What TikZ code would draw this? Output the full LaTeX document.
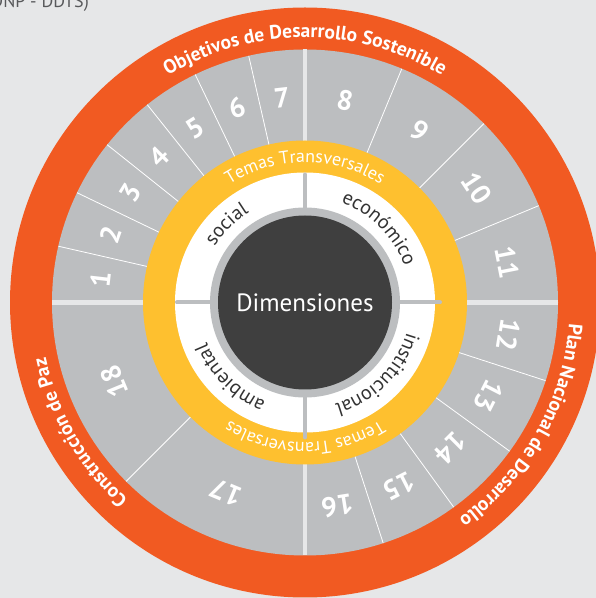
\documentclass[tikz,border=0pt]{standalone}
\usepackage{fontspec}
\setmainfont{PT Sans}
\usetikzlibrary{decorations.text}
\definecolor{bg}{HTML}{E6E7E8}
\definecolor{ora}{HTML}{F15A22}
\definecolor{ring}{HTML}{BCBEC0}
\definecolor{yel}{HTML}{FEC02F}
\definecolor{dark}{HTML}{3F3F3F}
\definecolor{lab}{HTML}{333333}
\definecolor{srcgray}{HTML}{58595B}
\newcommand\ringfont{\bfseries\fontsize{19.5}{19.5}\selectfont}
\newcommand\temafont{\fontsize{18}{18}\selectfont}
\newcommand\dimfont{\fontsize{20}{20}\selectfont}
\tikzset{
  num/.style={text=white, inner sep=0pt, font=\bfseries\fontsize{28}{28}\selectfont},
  thinsep/.style={white, line width=0.8pt},
  thicksep/.style={bg, line width=4.5pt},
  crosssep/.style={ring, line width=4pt, line cap=round},
  ringtext/.style={decorate, decoration={text along path, text align=center, text color=white, text={|\ringfont|#1}}},
  tematext/.style={decorate, decoration={text along path, text align=center, text color=white, text={|\temafont|#1}}},
  dimtext/.style={decorate, decoration={text along path, text align=center, text color=lab, text={|\dimfont|#1}}}
}
\begin{document}
\begin{tikzpicture}[x=1pt,y=1pt]
\clip (0,0) rectangle (596,598);
\fill[bg] (0,0) rectangle (596,598);
\coordinate (c) at (305,295.5);
\node[anchor=base east, text=srcgray, inner sep=0pt, font=\fontsize{18}{18}\selectfont] (src) at (89,590) {(DNP - DDTS)};
% rings
\fill[ora] (c) circle[radius=295];
\fill[ring] (c) circle[radius=253];
\foreach \a in {102.857,115.714,128.571,141.429,154.286,167.143,67.5,45,22.5,-18,-36,-54,-72,225}
  \draw[thinsep, shift={(c)}] (\a:160) -- (\a:253);
\foreach \a in {0,90,180,270}
  \draw[thicksep, shift={(c)}] (\a:160) -- (\a:253);
\fill[yel] (c) circle[radius=162];
\fill[white] (c) circle[radius=130];
\draw[crosssep, shift={(c)}] (90:92) -- (90:128);
\draw[crosssep, shift={(c)}] (180:92) -- (180:128);
\draw[crosssep, shift={(c)}] (0:92) -- (0:135);
\draw[crosssep, shift={(c)}] (270:92) -- (270:135);
\fill[ring] (c) circle[radius=95];
\fill[dark] (c) circle[radius=87];
\node[text=white, inner sep=0pt, font=\fontsize{25}{25}\selectfont] (dim) at (c) {Dimensiones};
% numbers
\foreach \n/\m in {1/173.571,2/160.714,3/147.857,4/135,5/122.143,6/109.286,7/96.429,8/78.75,9/56.25,10/33.75,11/11.25,12/-9,13/-27,14/-45,15/-63,16/-81,17/247.5,18/202.5}
  \node[num, rotate=\m-90] (n\n) at ([shift={(c)}]\m:206) {\n};
% orange ring texts
\path[ringtext={Objetivos de Desarrollo Sostenible}, shift={(c)}] (140:265) arc[start angle=140, end angle=40, radius=265];
\path[ringtext={Plan Nacional de Desarrollo}, shift={(c)}] (20.5:265) arc[start angle=20.5, end angle=-79.5, radius=265];
\path[ringtext={Construcción de Paz}, shift={(c)}] (250:265) arc[start angle=250, end angle=170, radius=265];
% yellow ring texts
\path[tematext={Temas Transversales}, shift={(c)}] (160:140) arc[start angle=160, end angle=20, radius=140];
\path[tematext={Temas Transversales}, shift={(c)}] (340:140) arc[start angle=340, end angle=200, radius=140];
% dimension labels
\path[dimtext={social}, shift={(c)}] (195:106) arc[start angle=195, end angle=75, radius=106];
\path[dimtext={económico}, shift={(c)}] (105:106) arc[start angle=105, end angle=-15, radius=106];
\path[dimtext={institucional}, shift={(c)}] (15:106) arc[start angle=15, end angle=-105, radius=106];
\path[dimtext={ambiental}, shift={(c)}] (285:106) arc[start angle=285, end angle=165, radius=106];
\end{tikzpicture}
\end{document}
